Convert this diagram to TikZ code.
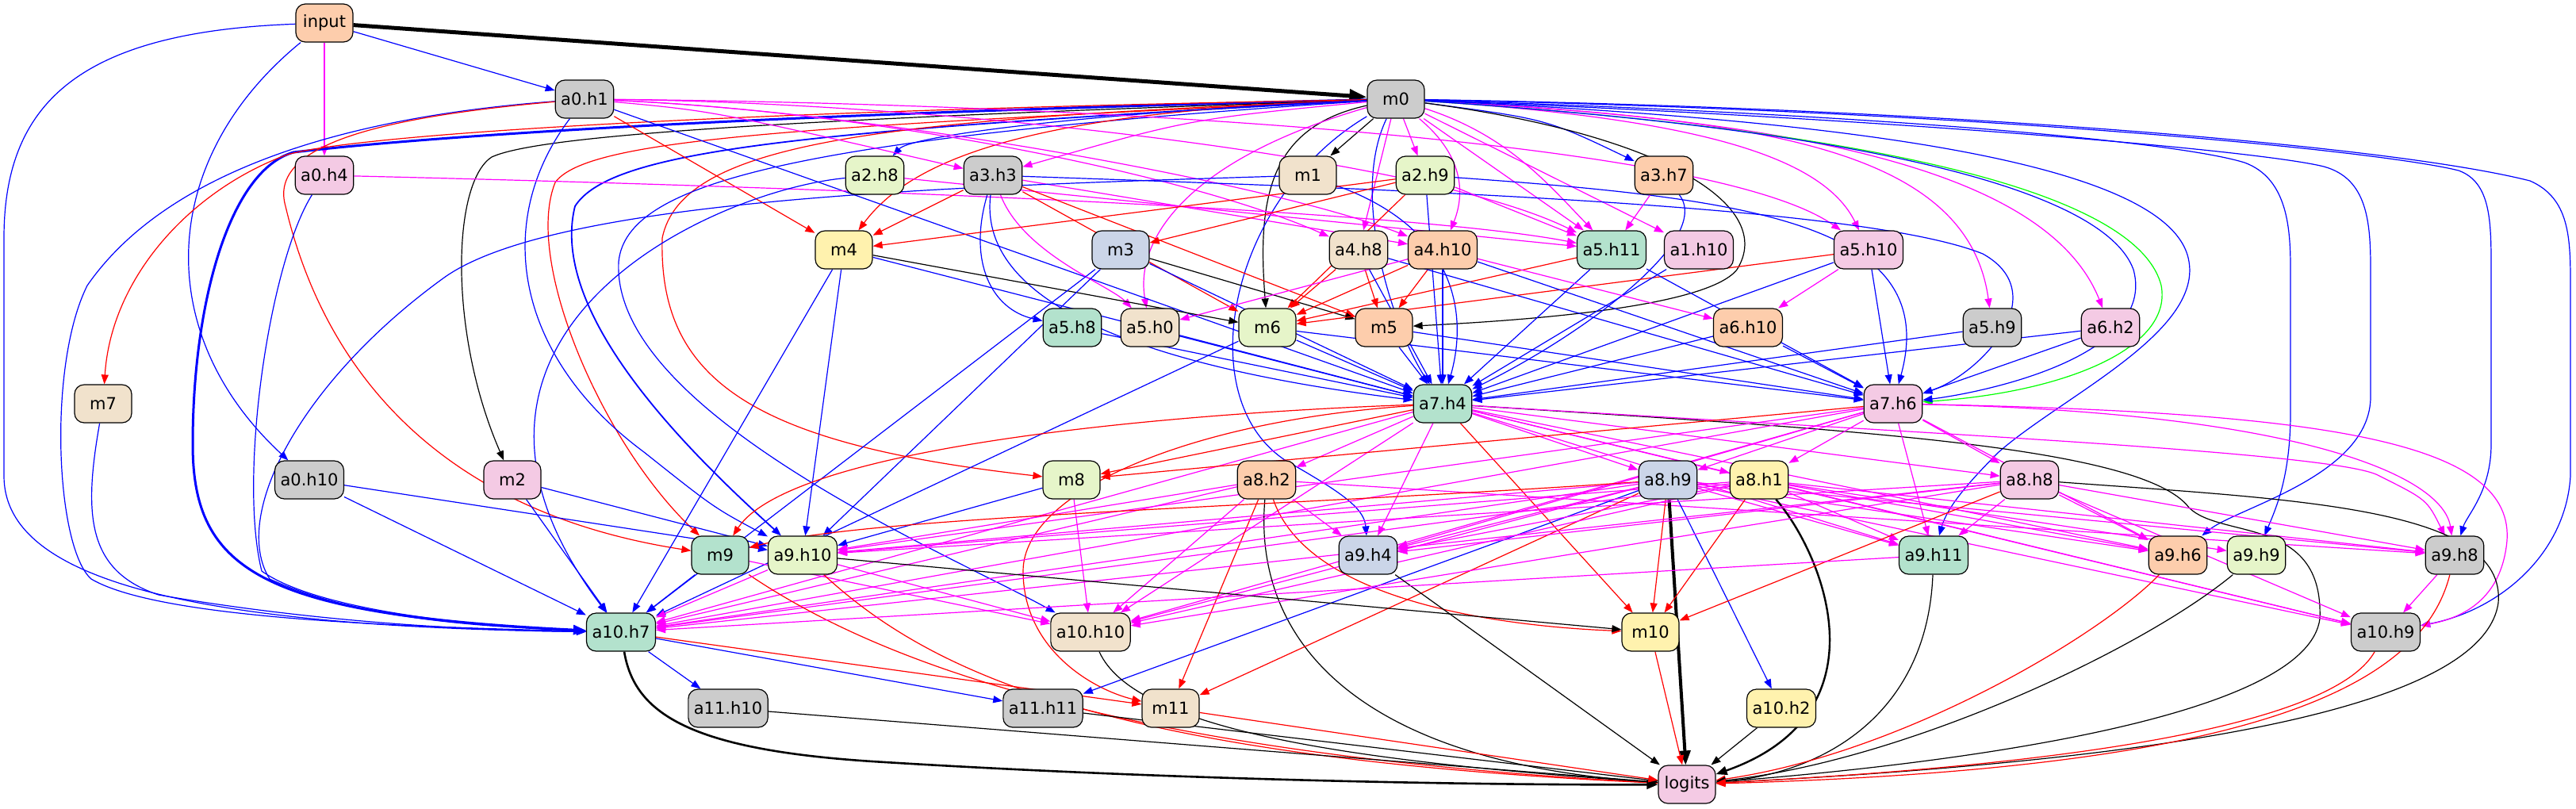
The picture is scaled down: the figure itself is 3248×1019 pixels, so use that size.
\documentclass[tikz,border=0pt]{standalone}
\usepackage{fontspec}
\setmainfont{DejaVu Sans}
\usetikzlibrary{arrows.meta,backgrounds}
\definecolor{pgreen}{HTML}{B3E2CD}
\definecolor{porange}{HTML}{FDCDAC}
\definecolor{pblue}{HTML}{CBD5E8}
\definecolor{ppink}{HTML}{F4CAE4}
\definecolor{plime}{HTML}{E6F5C9}
\definecolor{pyellow}{HTML}{FFF2AE}
\definecolor{ptan}{HTML}{F1E2CC}
\definecolor{pgrey}{HTML}{CCCCCC}
\definecolor{eblue}{HTML}{0000FF}
\definecolor{emag}{HTML}{FF00FF}
\definecolor{ered}{HTML}{FF0000}
\definecolor{egreen}{HTML}{00FF00}
\tikzset{
 nd/.style={draw=black, line width=0.6pt, rounded corners=6pt, minimum width=36pt, minimum height=24pt, inner xsep=3.5pt, inner ysep=2pt, font=\fontsize{10.5}{12}\selectfont},
 tipa/.style={-{Triangle[length=6pt,width=4.5pt]}},
 eb/.style={tipa, draw=eblue, line width=0.6pt},
 em/.style={tipa, draw=emag, line width=0.6pt},
 er/.style={tipa, draw=ered, line width=0.6pt},
 ek/.style={tipa, draw=black, line width=0.6pt},
 eg/.style={tipa, draw=egreen, line width=0.6pt},
}
\begin{document}
\begin{tikzpicture}[x=0.5pt,y=-0.5pt]
\path[use as bounding box] (0,0) rectangle (3248,1019);
% nodes
\node[nd, fill=porange] (input) at (409,29) {input};
\node[nd, fill=pgrey] (m0) at (1760,125) {m0};
\node[nd, fill=pgrey] (a0h1) at (737,125) {a0.h1};
\node[nd, fill=ppink] (a0h4) at (409,221) {a0.h4};
\node[nd, fill=plime] (a2h8) at (1103,221) {a2.h8};
\node[nd, fill=pgrey] (a3h3) at (1252,221) {a3.h3};
\node[nd, fill=ptan] (m1) at (1649,221) {m1};
\node[nd, fill=plime] (a2h9) at (1797,221) {a2.h9};
\node[nd, fill=porange] (a3h7) at (2098,221) {a3.h7};
\node[nd, fill=pyellow] (m4) at (1064,315) {m4};
\node[nd, fill=pblue] (m3) at (1413,315) {m3};
\node[nd, fill=ptan] (a4h8) at (1713,315) {a4.h8};
\node[nd, fill=porange] (a4h10) at (1819,315) {a4.h10};
\node[nd, fill=pgreen] (a5h11) at (2032,315) {a5.h11};
\node[nd, fill=ppink] (a1h10) at (2142,315) {a1.h10};
\node[nd, fill=ppink] (a5h10) at (2356,315) {a5.h10};
\node[nd, fill=ptan] (m7) at (130,509) {m7};
\node[nd, fill=pgreen] (a5h8) at (1352,413) {a5.h8};
\node[nd, fill=ptan] (a5h0) at (1450,413) {a5.h0};
\node[nd, fill=plime] (m6) at (1598,413) {m6};
\node[nd, fill=porange] (m5) at (1745,413) {m5};
\node[nd, fill=porange] (a6h10) at (2204,413) {a6.h10};
\node[nd, fill=pgrey] (a5h9) at (2512,413) {a5.h9};
\node[nd, fill=ppink] (a6h2) at (2661,413) {a6.h2};
\node[nd, fill=pgreen] (a7h4) at (1819,509) {a7.h4};
\node[nd, fill=ppink] (a7h6) at (2387,509) {a7.h6};
\node[nd, fill=pgrey] (a0h10) at (390,605) {a0.h10};
\node[nd, fill=ppink] (m2) at (646,605) {m2};
\node[nd, fill=plime] (m8) at (1351,605) {m8};
\node[nd, fill=porange] (a8h2) at (1597,605) {a8.h2};
\node[nd, fill=pblue] (a8h9) at (2103,605) {a8.h9};
\node[nd, fill=pyellow] (a8h1) at (2218,605) {a8.h1};
\node[nd, fill=ppink] (a8h8) at (2559,605) {a8.h8};
\node[nd, fill=pgreen] (m9) at (908,700) {m9};
\node[nd, fill=plime] (a9h10) at (1012,700) {a9.h10};
\node[nd, fill=pblue] (a9h4) at (1725,700) {a9.h4};
\node[nd, fill=pgreen] (a9h11) at (2438,700) {a9.h11};
\node[nd, fill=porange] (a9h6) at (2746,700) {a9.h6};
\node[nd, fill=plime] (a9h9) at (2845,700) {a9.h9};
\node[nd, fill=pgrey] (a9h8) at (3095,700) {a9.h8};
\node[nd, fill=pgreen] (a10h7) at (783,797) {a10.h7};
\node[nd, fill=ptan] (a10h10) at (1375,797) {a10.h10};
\node[nd, fill=pyellow] (m10) at (2081,797) {m10};
\node[nd, fill=pgrey] (a10h9) at (3008,797) {a10.h9};
\node[nd, fill=pgrey] (a11h10) at (918,893) {a11.h10};
\node[nd, fill=pgrey] (a11h11) at (1315,893) {a11.h11};
\node[nd, fill=ptan] (m11) at (1476,893) {m11};
\node[nd, fill=pyellow] (a10h2) at (2246,893) {a10.h2};
\node[nd, fill=ppink] (logits) at (2127,989) {logits};

\begin{scope}[on background layer]
% input
\draw[ek, line width=2.5pt, -{Triangle[length=11pt,width=8pt]}] (input) -- (m0);
\draw[eb] (input) -- (a0h1);
\draw[em] (input) -- (a0h4);
\draw[eb] (input) .. controls (200,200) and (190,420) .. (a0h10);
\draw[eb] (input) .. controls (100,40) and (5,130) .. (5,300) -- (5,600) .. controls (5,720) and (200,790) .. (a10h7);
% m0 left
\draw[eb, line width=1.5pt, -{Triangle[length=8pt,width=6pt]}] (m0) .. controls (1100,140) and (600,165) .. (370,192) .. controls (290,215) and (243,380) .. (243,560) .. controls (243,720) and (330,775) .. (a10h7);
\draw[er] (m0) .. controls (900,140) and (450,170) .. (362,195) .. controls (240,240) and (140,350) .. (m7);
\draw[ek] (m0) .. controls (1000,150) and (680,170) .. (620,198) .. controls (570,230) and (565,420) .. (m2);
\draw[er] (m0) .. controls (1000,160) and (740,175) .. (700,230) .. controls (660,330) and (760,560) .. (m9);
\draw[eb, line width=0.9pt] (m0) .. controls (1000,165) and (770,190) .. (725,260) .. controls (690,400) and (880,580) .. (a9h10);
\draw[er] (m0) .. controls (1100,150) and (860,180) .. (835,300) .. controls (830,480) and (950,560) .. (m8);
\draw[eb] (m0) .. controls (1000,175) and (790,230) .. (780,330) .. controls (770,520) and (1200,700) .. (a10h10);
\draw[er] (m0) .. controls (1300,140) and (1150,200) .. (m4);
\draw[eb] (m0) .. controls (1400,140) and (1150,170) .. (a2h8);
\draw[em] (m0) .. controls (1500,150) .. (a3h3);
\draw[ek] (m0) -- (m1);
\draw[em] (m0) -- (a2h9);
\draw[eb] (m0) .. controls (1950,150) .. (a3h7);
\draw[em] (m0) -- (a4h8);
\draw[em] (m0) .. controls (1850,200) and (1845,250) .. (a4h10);
\draw[em] (m0) -- (a5h11);
\draw[em] (m0) .. controls (1900,170) and (1950,230) .. (a5h11);
\draw[em] (m0) -- (a1h10);
\draw[em] (m0) .. controls (2150,150) and (2300,200) .. (a5h10);
\draw[em] (m0) .. controls (2200,150) and (2480,180) .. (a5h9);
\draw[em] (m0) .. controls (2250,150) and (2580,210) .. (a6h2);
\draw[eg] (m0) .. controls (2450,170) and (2700,260) .. (2725,360) .. controls (2740,440) and (2600,495) .. (a7h6);
\draw[eb] (m0) .. controls (2300,160) and (2650,230) .. (2690,340) .. controls (2720,450) and (2500,495) .. (a7h6);
\draw[eb] (m0) .. controls (1700,250) and (1760,420) .. (a7h4);
\draw[ek] (m0) .. controls (1600,160) and (1585,250) .. (m6);
\draw[ek] (m0) .. controls (2100,170) and (2240,260) .. (2190,340) .. controls (2150,390) and (1900,405) .. (m5);
\draw[em] (m0) .. controls (1500,200) and (1430,300) .. (a5h0);
\draw[eb] (m0) .. controls (2300,150) and (2740,200) .. (2760,330) .. controls (2775,420) and (2600,500) .. (2520,570) .. controls (2480,610) and (2455,640) .. (a9h11);
\draw[eb] (m0) .. controls (2400,150) and (2850,190) .. (2930,210) .. controls (2985,225) and (2989,280) .. (2989,340) -- (2989,500) .. controls (2989,600) and (2820,640) .. (a9h6);
\draw[eb] (m0) .. controls (2400,145) and (2750,180) .. (2830,205) .. controls (2885,225) and (2888,290) .. (2888,340) -- (2888,520) .. controls (2888,600) and (2870,640) .. (a9h9);
\draw[eb] (m0) .. controls (2500,140) and (3000,190) .. (3100,215) .. controls (3141,230) and (3141,280) .. (3141,340) -- (3141,560) .. controls (3141,620) and (3110,650) .. (a9h8);
\draw[eb] (m0) .. controls (2400,135) and (3000,180) .. (3190,228) .. controls (3240,250) and (3241,300) .. (3241,360) -- (3241,600) .. controls (3235,700) and (3150,770) .. (a10h9);
\draw[eb] (m0) .. controls (1550,250) and (1500,500) .. (1620,580) .. controls (1690,620) and (1720,640) .. (a9h4);
% a0h1
\draw[eb] (a0h1) .. controls (400,150) and (200,230) .. (110,360) .. controls (60,460) and (70,690) .. (115,730) .. controls (200,780) and (500,790) .. (a10h7);
\draw[er] (a0h1) .. controls (450,150) and (340,190) .. (360,260) .. controls (400,430) and (520,640) .. (m9);
\draw[eb] (a0h1) .. controls (620,280) and (650,450) .. (812,570) .. controls (900,640) .. (a9h10);
\draw[eb] (a0h1) -- (a7h4);
\draw[er] (a0h1) -- (m4);
\draw[em] (a0h1) .. controls (900,140) .. (a3h3);
\draw[em] (a0h1) .. controls (1200,130) and (1800,200) .. (a5h11);
\draw[em] (a0h1) .. controls (1300,130) and (2150,170) .. (a5h10);
\draw[em] (a0h1) .. controls (1100,140) and (1500,220) .. (a4h8);
\draw[em] (a0h1) .. controls (1100,140) and (1600,230) .. (a4h10);
% a0h4, a0h10, m7, m2
\draw[eb] (a0h4) .. controls (340,330) and (300,600) .. (330,720) .. controls (400,770) and (600,790) .. (a10h7);
\draw[em] (a0h4) .. controls (1200,240) and (1800,270) .. (a5h11);
\draw[eb] (a0h10) -- (a10h7);
\draw[eb] (a0h10) -- (a9h10);
\draw[eb] (m7) .. controls (105,650) and (110,720) .. (200,750) .. controls (400,785) and (600,795) .. (a10h7);
\draw[eb] (m2) -- (a10h7);
\draw[eb] (m2) -- (a9h10);
% a2h8, a3h3, m1
\draw[eb] (a2h8) .. controls (900,240) and (500,420) .. (a10h7);
\draw[em] (a2h8) -- (a5h11);
\draw[er] (a3h3) -- (m4);
\draw[eb] (a3h3) .. controls (1220,330) and (1250,390) .. (a5h8);
\draw[em] (a3h3) .. controls (1290,320) and (1400,360) .. (a5h0);
\draw[er] (a3h3) -- (m6);
\draw[er] (a3h3) -- (m5);
\draw[eb] (a3h3) .. controls (1800,240) and (2350,260) .. (2500,320) .. controls (2590,370) and (2500,470) .. (a7h6);
\draw[eb] (a3h3) .. controls (1230,400) and (1500,470) .. (a7h4);
\draw[em] (a3h3) -- (a4h10);
\draw[eb] (m1) .. controls (1200,235) and (700,250) .. (560,350) .. controls (380,480) and (290,650) .. (340,730) .. controls (450,780) and (600,790) .. (a10h7);
\draw[eb] (m1) .. controls (1840,290) and (1850,400) .. (a7h4);
% a2h9, a3h7
\draw[er] (a2h9) -- (m4);
\draw[er] (a2h9) -- (m3);
\draw[er] (a2h9) -- (m6);
\draw[em] (a2h9) -- (a5h11);
\draw[eb] (a2h9) -- (a7h4);
\draw[eb] (a2h9) .. controls (2200,250) and (2450,280) .. (a7h6);
\draw[em] (a3h7) -- (a5h11);
\draw[eb] (a3h7) .. controls (2160,300) and (2000,420) .. (a7h4);
% m4, m3
\draw[ek] (m4) -- (m6);
\draw[eb] (m4) -- (a10h7);
\draw[eb] (m4) -- (a9h10);
\draw[eb] (m4) -- (a7h4);
\draw[ek] (m3) -- (m5);
\draw[eb] (m3) -- (a10h7);
\draw[eb] (m3) -- (a9h10);
\draw[eb] (m3) -- (a7h4);
% layer 4-6
\foreach \s/\t in {a4h8/m6,a4h8/m5,a4h10/m6,a4h10/m5,a5h11/m6,a5h10/m6}
  \draw[er] (\s) -- (\t);
\foreach \s/\t in {a4h8/a7h4,a4h8/a7h6,a4h10/a7h4,a4h10/a7h6,a5h11/a7h4,a5h11/a7h6,a1h10/a7h4,a5h10/a7h4,a5h10/a7h6,a5h8/a7h4,a5h0/a7h4,m6/a7h4,m6/a7h6,m5/a7h4,m5/a7h6,a6h10/a7h4,a6h10/a7h6,a5h9/a7h4,a6h2/a7h4,a6h2/a7h6,m6/a10h7}
  \draw[eb] (\s) -- (\t);
\foreach \s/\t in {a4h10/a6h10,a4h10/a5h0,a5h10/a6h10}
  \draw[em] (\s) -- (\t);
% a7h4
\draw[er] (a7h4) -- (m8);
\draw[er] (a7h4) .. controls (1500,520) and (1000,560) .. (m9);
\draw[er] (a7h4) -- (m10);
\draw[er] (a7h4) .. controls (1500,530) and (1290,620) .. (1290,720) .. controls (1290,820) and (1380,870) .. (m11);
\draw[ek] (a7h4) .. controls (2300,540) and (2700,560) .. (2760,640) .. controls (2800,680) and (2930,650) .. (2925,780) .. controls (2910,900) and (2500,960) .. (logits);
\draw[em] (a7h4) .. controls (2400,545) and (2950,570) .. (3000,600) .. controls (3060,630) .. (a9h8);
\foreach \t in {a8h2,a8h9,a8h1,a8h8,a9h4,a9h11,a9h6,a10h7,a10h10,a10h9}
  \draw[em] (a7h4) -- (\t);
% a7h6
\draw[er] (a7h6) -- (m8);
\draw[em] (a7h6) .. controls (2900,520) and (3080,600) .. (a9h8);
\draw[em] (a7h6) .. controls (2950,520) and (3180,560) .. (3160,690) .. controls (3150,760) and (3100,780) .. (a10h9);
\foreach \t in {a8h9,a8h1,a8h8,a9h10,a9h4,a9h11,a9h6,a10h10,a10h7}
  \draw[em] (a7h6) -- (\t);
% m8, a8h2
\draw[eb] (m8) -- (a9h10);
\draw[em] (m8) -- (a10h10);
\draw[ek] (a8h2) .. controls (1580,800) and (1700,960) .. (logits);
\draw[er] (a8h2) -- (m11);
\draw[er] (a8h2) .. controls (1650,760) and (1900,790) .. (m10);
\foreach \t in {a9h10,a9h4,a10h7,a10h10,a9h8}
  \draw[em] (a8h2) -- (\t);
% a8h9
\draw[ek, line width=2pt, -{Triangle[length=9pt,width=7pt]}] (a8h9) -- (logits);
\draw[eb] (a8h9) -- (a11h11);
\draw[eb] (a8h9) -- (a10h2);
\draw[er] (a8h9) -- (m10);
\draw[er] (a8h9) -- (m11);
\draw[er] (a8h9) .. controls (1600,640) and (1100,650) .. (m9);
\foreach \t in {a9h10,a9h4,a9h11,a9h6,a9h8,a10h7,a10h10,a10h9}
  \draw[em] (a8h9) -- (\t);
% a8h1
\draw[ek, line width=1.2pt, -{Triangle[length=7pt,width=5.5pt]}] (a8h1) .. controls (2300,700) and (2380,900) .. (logits);
\draw[er] (a8h1) -- (m10);
\foreach \t in {a9h10,a9h4,a9h11,a9h6,a9h9,a9h8,a10h7,a10h10,a10h9}
  \draw[em] (a8h1) -- (\t);
% a8h8
\draw[ek] (a8h8) .. controls (2900,630) and (3160,640) .. (3150,760) .. controls (3130,900) and (2700,960) .. (logits);
\draw[er] (a8h8) -- (m10);
\foreach \t in {a9h10,a9h4,a9h11,a9h6,a9h8,a10h7,a10h10,a10h9}
  \draw[em] (a8h8) -- (\t);
% layer 9
\draw[eb] (m9) -- (a10h7);
\draw[em] (m9) -- (a10h10);
\draw[er] (m9) .. controls (1100,830) and (1400,950) .. (logits);
\draw[em] (a9h10) -- (a10h7);
\draw[em] (a9h10) -- (a10h10);
\draw[ek] (a9h10) -- (m10);
\draw[er] (a9h10) .. controls (1175,850) and (1400,955) .. (logits);
\draw[ek] (a9h4) -- (logits);
\draw[ek] (a9h11) .. controls (2430,900) and (2300,975) .. (logits);
\draw[em] (a9h11) -- (a10h7);
\draw[er] (a9h6) .. controls (2650,800) and (2400,950) .. (logits);
\draw[ek] (a9h9) .. controls (2700,820) and (2400,960) .. (logits);
\draw[er] (a9h8) .. controls (3050,880) and (2800,970) .. (logits);
\draw[em] (a9h8) -- (a10h9);
% layer 10-11
\draw[ek, line width=1.3pt, -{Triangle[length=7pt,width=5.5pt]}] (a10h7) .. controls (800,900) and (870,945) .. (1100,960) .. controls (1500,985) and (1900,990) .. (logits);
\draw[eb] (a10h7) -- (a11h10);
\draw[eb] (a10h7) -- (a11h11);
\draw[er] (a10h7) -- (m11);
\draw[ek] (a10h10) .. controls (1430,920) and (1700,960) .. (logits);
\draw[er] (m10) -- (logits);
\draw[er] (a10h9) .. controls (2950,900) and (2700,960) .. (logits);
\draw[ek] (a11h10) -- (logits);
\draw[ek] (a11h11) -- (logits);
\draw[er] (m11) -- (logits);
\draw[ek] (a10h2) -- (logits);
\end{scope}
\end{tikzpicture}
\end{document}
